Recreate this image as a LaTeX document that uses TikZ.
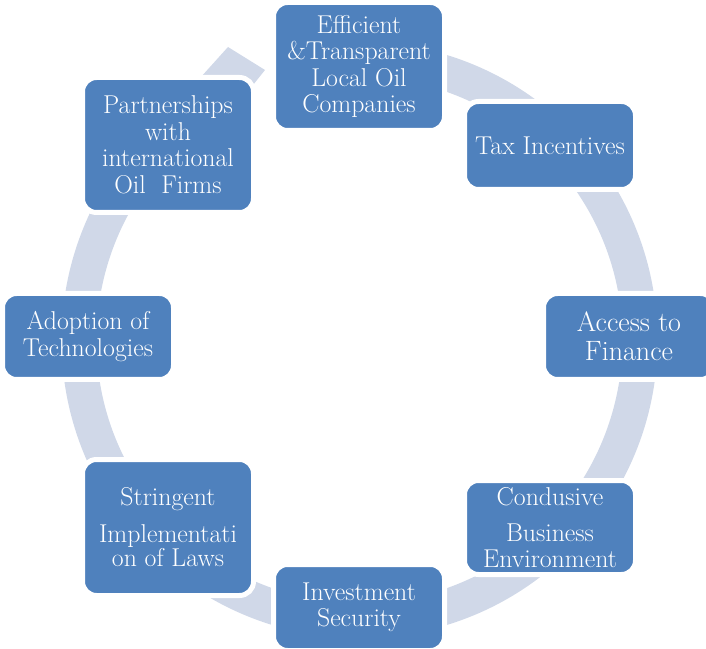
\documentclass[tikz,border=0pt]{standalone}
\usepackage{fontspec}
\definecolor{boxblue}{HTML}{4F81BD}
\definecolor{ringcol}{HTML}{D0D8E8}
\begin{document}
\begin{tikzpicture}[x=1pt,y=1pt,
  cyclebox/.style={rectangle, rounded corners=14pt, fill=boxblue, draw=white,
    line width=5pt, text=white, align=center, inner sep=2pt,
    minimum width=171pt, font=\fontsize{25.8}{26.5}\selectfont},
  bigtext/.style={font=\fontsize{28}{29}\selectfont}]
\useasboundingbox (0,0) rectangle (706,648);

% centre of the circular arrow and the corners of its head
\coordinate (C) at (359.5,308);
\coordinate (Bo) at (228,601);
\coordinate (T) at (265,578);
\coordinate (Bi) at (227.5,531);

% the ring with its arrowhead, running clockwise
\fill[ringcol] ([shift={(C)}]95:298pt)
  arc[start angle=95, end angle=-231.6, radius=298pt]
  -- (Bo) -- (T) -- (Bi)
  -- ([shift={(C)}]-235:263pt)
  arc[start angle=-235, end angle=95, radius=263pt] -- cycle;

% the eight stages
\node[cyclebox, minimum height=128pt] (eff) at (359,581.5)
  {Efficient\\\&Transparent\\Local Oil\\Companies};
\node[cyclebox, minimum height=88pt] (tax) at (550,502.5) {Tax Incentives};
\node[cyclebox, bigtext, minimum height=86pt] (acc) at (629,311.5)
  {Access to\\Finance};
\node[cyclebox, minimum height=94pt] (con) at (550,120.5)
  {Condusive\\[9.5pt]Business\\Environment};
\node[cyclebox, minimum height=86pt] (inv) at (359,40.5)
  {Investment\\Security};
\node[cyclebox, minimum height=136pt] (str) at (168,120.5)
  {Stringent\\[10pt]Implementati\\[-2pt]on of Laws};
\node[cyclebox, minimum height=86pt] (ado) at (88,311.5)
  {Adoption of\\Technologies};
\node[cyclebox, minimum height=135pt] (par) at (168,503)
  {Partnerships\\with\\international\\Oil\ \ Firms};
\end{tikzpicture}
\end{document}
